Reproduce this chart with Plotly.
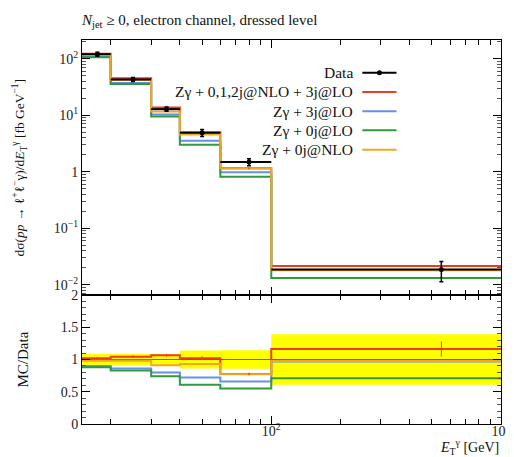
import math
import plotly.graph_objects as go

# ---------------- data ----------------
bin_edges = [15, 20, 30, 40, 60, 100, 1000]
data_x = [17.5, 25, 35, 50, 80, 550]
data_xerr = [2.5, 5, 5, 10, 20, 450]
data_y = [120, 43, 12.8, 4.9, 1.48, 0.0186]
data_err = [10.2, 3.65, 1.09, 0.69, 0.21, 0.0073]

mc_names = ["Zγ + 0,1,2j@NLO + 3j@LO", "Zγ + 3j@LO", "Zγ + 0j@LO", "Zγ + 0j@NLO"]
mc_nlo012_lo3 = [122.4, 44.9, 13.63, 5.0, 1.147, 0.0216]
mc_lo3 = [108.0, 37.0, 10.24, 3.53, 0.977, 0.0180]
mc_lo0 = [105.6, 35.7, 9.47, 2.99, 0.814, 0.0132]
mc_nlo0 = [117.6, 42.1, 11.65, 4.56, 1.14, 0.0182]
mc_red_err = [2.4, 0.9, 0.27, 0.15, 0.035, 0.0022]

mc_colors = ["#EE3B22", "#6A8FE6", "#2E9B3C", "#F2A724"]
band_color = "#FFFF00"

FONT = "Liberation Serif"

mc_sets = [mc_nlo012_lo3, mc_lo3, mc_lo0, mc_nlo0]

def step(vals):
    return list(vals) + [vals[-1]]

fig = go.Figure()

# ---------------- top panel ----------------
for vals, col, name in zip(mc_sets, mc_colors, mc_names):
    fig.add_trace(go.Scatter(x=bin_edges, y=step(vals), mode="lines",
                             line=dict(color=col, width=2, shape="hv"),
                             name=name, showlegend=False, xaxis="x", yaxis="y"))

fig.add_trace(go.Scatter(x=data_x, y=mc_nlo012_lo3, mode="markers",
                         marker=dict(size=1, color=mc_colors[0]),
                         error_y=dict(type="data", array=mc_red_err, color=mc_colors[0],
                                      thickness=1, width=0),
                         showlegend=False, xaxis="x", yaxis="y"))

fig.add_trace(go.Scatter(x=data_x, y=data_y, mode="markers",
                         marker=dict(size=5, color="black"),
                         error_y=dict(type="data", array=data_err, color="black",
                                      thickness=1.5, width=2),
                         error_x=dict(type="data", array=data_xerr, color="black",
                                      thickness=2, width=0),
                         name="Data", showlegend=False, xaxis="x", yaxis="y"))

# ---------------- ratio panel ----------------
rel_err = [e / v for e, v in zip(data_err, data_y)]
band_lo = [1 - r for r in rel_err]
band_hi = [1 + r for r in rel_err]
fig.add_trace(go.Scatter(x=bin_edges, y=step(band_lo), mode="lines",
                         line=dict(width=0, shape="hv"), showlegend=False,
                         xaxis="x2", yaxis="y2", hoverinfo="skip"))
fig.add_trace(go.Scatter(x=bin_edges, y=step(band_hi), mode="lines",
                         line=dict(width=0, shape="hv"), fill="tonexty",
                         fillcolor=band_color, showlegend=False,
                         xaxis="x2", yaxis="y2", hoverinfo="skip"))
fig.add_trace(go.Scatter(x=[bin_edges[0], bin_edges[-1]], y=[1, 1], mode="lines",
                         line=dict(color="#3d7d2c", width=1), showlegend=False,
                         xaxis="x2", yaxis="y2"))

for vals, col, name in zip(mc_sets, mc_colors, mc_names):
    ratio = [m / d for m, d in zip(vals, data_y)]
    fig.add_trace(go.Scatter(x=bin_edges, y=step(ratio), mode="lines",
                             line=dict(color=col, width=2, shape="hv"),
                             showlegend=False, xaxis="x2", yaxis="y2"))

red_ratio = [m / d for m, d in zip(mc_nlo012_lo3, data_y)]
red_ratio_err = [e / d for e, d in zip(mc_red_err, data_y)]
fig.add_trace(go.Scatter(x=data_x, y=red_ratio, mode="markers",
                         marker=dict(size=1, color=mc_colors[0]),
                         error_y=dict(type="data", array=red_ratio_err, color=mc_colors[0],
                                      thickness=1, width=0),
                         showlegend=False, xaxis="x2", yaxis="y2"))

# ---------------- axes ----------------
minor_x = [v * 10 ** k for k in (1, 2) for v in range(2, 10)]
minor_y = [v * 10.0 ** k for k in range(-3, 3) for v in range(2, 10)]

common = dict(showline=True, linecolor="black", linewidth=1, mirror="allticks",
              ticks="inside", ticklen=8, tickcolor="black", tickwidth=1,
              showgrid=False, zeroline=False,
              tickfont=dict(family=FONT, size=14, color="#222"))

split = 0.336
fig.update_layout(
    width=514, height=457,
    margin=dict(l=74, r=11, t=32, b=41),
    paper_bgcolor="white", plot_bgcolor="white",
    showlegend=False,
    xaxis=dict(common, type="log", range=[math.log10(15), 3], anchor="y",
               domain=[0, 1], showticklabels=False, tickvals=[100],
               minor=dict(tickvals=minor_x, ticks="inside", ticklen=5,
                          tickcolor="black")),
    yaxis=dict(common, type="log", range=[-2.18, 2.33], domain=[split, 1],
               anchor="x",
               tickvals=[0.01, 0.1, 1, 10, 100],
               ticktext=["10<sup>−2</sup>", "10<sup>−1</sup>", "1",
                         "10<sup>1</sup>", "10<sup>2</sup>"],
               minor=dict(tickvals=minor_y, ticks="inside", ticklen=4,
                          tickcolor="#555")),
    xaxis2=dict(common, type="log", range=[math.log10(15), 3], anchor="y2",
                domain=[0, 1], tickvals=[100, 1000],
                ticktext=["10<sup>2</sup>", "10<sup>3</sup>"],
                ticklabelstandoff=-6,
                minor=dict(tickvals=minor_x, ticks="inside", ticklen=5,
                           tickcolor="black")),
    yaxis2=dict(common, range=[0, 2], domain=[0, split], anchor="x2",
                tickvals=[0, 0.5, 1, 1.5, 2],
                minor=dict(dtick=0.1, ticks="inside", ticklen=4,
                           tickcolor="#555")),
)

# ---------------- texts ----------------
ann = []
ann.append(dict(text="<i>N</i><sub>jet</sub> ≥ 0, electron channel, dressed level",
                xref="paper", yref="paper", x=0, y=1, xanchor="left", xshift=-3,
                yanchor="middle", yshift=19, showarrow=False,
                font=dict(family=FONT, size=15, color="#111")))
ann.append(dict(text="dσ(<i>pp</i> → ℓ<sup>+</sup>ℓ<sup>−</sup>γ)/d<i>E</i><sub>T</sub><sup>γ</sup> [fb GeV<sup>−1</sup>]",
                xref="paper", yref="paper", x=0, y=(1 + split) / 2, xshift=-62,
                xanchor="center", yanchor="middle", textangle=-90, showarrow=False,
                font=dict(family=FONT, size=13.5, color="#111")))
ann.append(dict(text="MC/Data", xref="paper", yref="y2", x=0, y=1, xshift=-59,
                xanchor="center", yanchor="middle", textangle=-90, showarrow=False,
                font=dict(family=FONT, size=15, color="#111")))
ann.append(dict(text="<i>E</i><sub>T</sub><sup>γ</sup> [GeV]", xref="paper",
                yref="paper", x=1, y=0, xanchor="right", yanchor="bottom",
                yshift=-35, showarrow=False,
                font=dict(family=FONT, size=14, color="#111")))

# legend (text on the left, sample line on the right)
leg_labels = ["Data"] + mc_names
leg_colors = ["black"] + mc_colors
leg_y = [0.915, 0.8646, 0.8143, 0.7648, 0.7143]
shapes = []
for lab, col, yy in zip(leg_labels, leg_colors, leg_y):
    ann.append(dict(text=lab, xref="paper", yref="paper", x=0.652, y=yy,
                    xanchor="right", yanchor="middle", showarrow=False,
                    font=dict(family=FONT, size=15.5, color="#111")))
    shapes.append(dict(type="line", xref="paper", yref="paper", x0=0.669,
                       x1=0.7506, y0=yy, y1=yy,
                       line=dict(color=col, width=2)))
shapes.append(dict(type="circle", xref="paper", yref="paper",
                   xsizemode="pixel", ysizemode="pixel",
                   xanchor=0.71, yanchor=leg_y[0], x0=-2.5, x1=2.5, y0=-2.5, y1=2.5,
                   fillcolor="black", line=dict(color="black", width=0)))

fig.update_layout(annotations=ann, shapes=shapes)

fig.write_html("out.html")
